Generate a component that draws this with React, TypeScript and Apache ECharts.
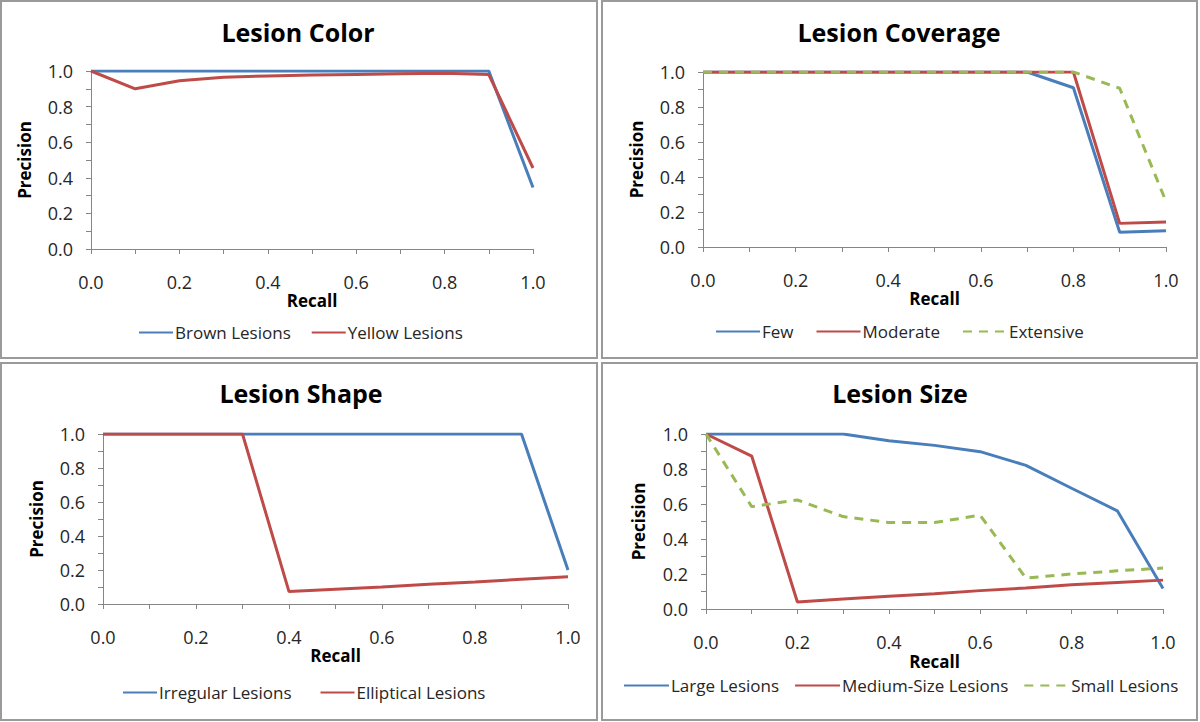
import React, { useEffect, useRef } from "react";
import * as echarts from "echarts";

const recall = [0, 0.1, 0.2, 0.3, 0.4, 0.5, 0.6, 0.7, 0.8, 0.9, 1.0];
const tickLabels = ["0.0", "0.2", "0.4", "0.6", "0.8", "1.0"];

const colorBrown = [1, 1, 1, 1, 1, 1, 1, 1, 1, 1, 0.345];
const colorYellow = [1, 0.9, 0.945, 0.965, 0.972, 0.977, 0.981, 0.984, 0.987, 0.98, 0.455];

const coverageFew = [1, 1, 1, 1, 1, 1, 1, 1, 0.91, 0.084, 0.093];
const coverageModerate = [1, 1, 1, 1, 1, 1, 1, 1, 1, 0.135, 0.143];
const coverageExtensive = [1, 1, 1, 1, 1, 1, 1, 1, 1, 0.907, 0.26];

const shapeIrregular = [1, 1, 1, 1, 1, 1, 1, 1, 1, 1, 0.2];
const shapeElliptical = [1, 1, 1, 1, 0.073, 0.087, 0.1, 0.116, 0.13, 0.145, 0.16];

const sizeLarge = [1, 1, 1, 1, 0.962, 0.935, 0.899, 0.821, 0.69, 0.561, 0.117];
const sizeMedium = [1, 0.874, 0.04, 0.057, 0.073, 0.087, 0.105, 0.12, 0.138, 0.152, 0.165];
const sizeSmall = [1, 0.585, 0.623, 0.528, 0.494, 0.494, 0.536, 0.177, 0.2, 0.218, 0.234];

const titles = ["Lesion Color", "Lesion Coverage", "Lesion Shape", "Lesion Size"];

const BLUE = "#4A7EBB";
const RED = "#BE4B48";
const GREEN = "#98B954";
const FONT = "Open Sans";

export default function App() {
  const ref = useRef<HTMLDivElement>(null);
  useEffect(() => {
    document.body.style.margin = "0";
    if (!ref.current) return;
    const chart = echarts.init(ref.current, null, { renderer: "svg" });

    const grids = [
      { left: 91, top: 71, width: 442, height: 178 },
      { left: 703, top: 72, width: 463, height: 175 },
      { left: 103, top: 434, width: 465, height: 170 },
      { left: 706, top: 434, width: 457, height: 175 },
    ];
    const yNameGap = [58, 58, 58, 59];
    const xNameGap = [40, 41, 40, 44];

    const axisCommon = {
      type: "value",
      min: 0,
      max: 1,
      interval: 0.2,
      splitLine: { show: false },
      axisLine: { show: true, lineStyle: { color: "#868686", width: 1 } },
      axisTick: { show: true, length: 5, lineStyle: { color: "#868686" } },
      minorTick: { show: true, splitNumber: 2, length: 5, lineStyle: { color: "#868686" } },
      axisLabel: {
        color: "#262626",
        fontFamily: FONT,
        fontSize: 18,
        formatter: (v: number) => tickLabels[Math.round(v * 5)] ?? v.toFixed(1),
      },
      nameTextStyle: { color: "#000", fontFamily: FONT, fontSize: 17, fontWeight: "bold" },
      nameLocation: "middle",
    };

    const xAxes = grids.map((_, i) => ({
      ...axisCommon,
      gridIndex: i,
      name: "Recall",
      nameGap: xNameGap[i],
      axisLabel: { ...axisCommon.axisLabel, margin: 24 },
    }));
    const yAxes = grids.map((_, i) => ({
      ...axisCommon,
      gridIndex: i,
      name: "Precision",
      nameRotate: 90,
      nameGap: yNameGap[i],
      axisLabel: { ...axisCommon.axisLabel, margin: 18 },
    }));

    const pts = (vals: number[]) => vals.map((v, i) => [recall[i], v]);
    const mk = (name: string, vals: number[], idx: number, color: string, dashed = false) => ({
      type: "line",
      name,
      xAxisIndex: idx,
      yAxisIndex: idx,
      data: pts(vals),
      symbol: "none",
      showSymbol: false,
      lineStyle: { color, width: 3, type: dashed ? [9, 7] : "solid" },
      itemStyle: { color },
      z: 2,
    });

    const series = [
      mk("Brown Lesions", colorBrown, 0, BLUE),
      mk("Yellow Lesions", colorYellow, 0, RED),
      mk("Few", coverageFew, 1, BLUE),
      mk("Moderate", coverageModerate, 1, RED),
      mk("Extensive", coverageExtensive, 1, GREEN, true),
      mk("Irregular Lesions", shapeIrregular, 2, BLUE),
      mk("Elliptical Lesions", shapeElliptical, 2, RED),
      mk("Large Lesions", sizeLarge, 3, BLUE),
      mk("Medium-Size Lesions", sizeMedium, 3, RED),
      mk("Small Lesions", sizeSmall, 3, GREEN, true),
    ];

    const legendCommon = {
      orient: "horizontal",
      padding: 0,
      itemWidth: 34,
      itemHeight: 14,
      itemGap: 20,
      itemStyle: { opacity: 0 },
      textStyle: { color: "#262626", fontFamily: FONT, fontSize: 17, padding: [0, 0, 0, -3] },
      selectedMode: false,
    };

    const legends = [
      { ...legendCommon, left: 138, top: 324, data: ["Brown Lesions", "Yellow Lesions"] },
      { ...legendCommon, left: 715, top: 323, itemWidth: 44, itemGap: 22, data: ["Few", "Moderate", "Extensive"] },
      { ...legendCommon, left: 122, top: 684, itemGap: 28, data: ["Irregular Lesions", "Elliptical Lesions"] },
      { ...legendCommon, left: 623, top: 677, itemWidth: 45, itemGap: 15, data: ["Large Lesions", "Medium-Size Lesions", "Small Lesions"] },
    ];

    const titleCenters = [
      [293, 14],
      [894, 14],
      [296, 375],
      [895, 375],
    ];
    const titleObjs = titles.map((t, i) => ({
      text: t,
      left: titleCenters[i][0],
      top: titleCenters[i][1],
      textAlign: "center",
      textStyle: { color: "#000", fontFamily: FONT, fontSize: 25, fontWeight: "bold" },
    }));

    const panels = [
      [1, 1, 596, 357],
      [602, 1, 595, 357],
      [1, 363, 596, 357],
      [602, 363, 595, 357],
    ];

    chart.setOption({
      animation: false,
      backgroundColor: "#fff",
      title: titleObjs,
      grid: grids,
      xAxis: xAxes,
      yAxis: yAxes,
      legend: legends,
      series,
      graphic: panels.map((p) => ({
        type: "rect",
        shape: { x: p[0], y: p[1], width: p[2], height: p[3] },
        style: { fill: "none", stroke: "#9a9a9a", lineWidth: 2 },
        silent: true,
        z: -1,
      })),
    });
    return () => chart.dispose();
  }, []);
  return <div ref={ref} style={{ width: 1200, height: 722 }} />;
}
